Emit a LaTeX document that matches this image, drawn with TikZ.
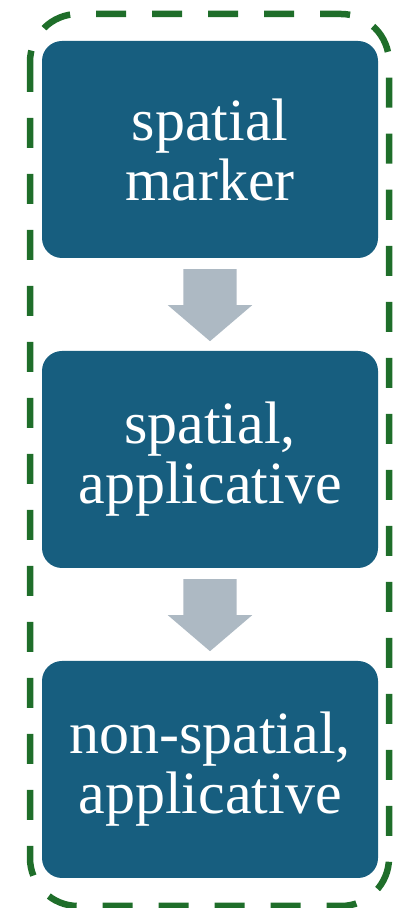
\documentclass[tikz,border=0pt]{standalone}
\usepackage{fontspec}
\setmainfont{Liberation Serif}
\usepackage{tikz}
\usetikzlibrary{calc,positioning,shapes.arrows}
\definecolor{boxblue}{HTML}{175E7F}
\definecolor{arrowgrey}{HTML}{ADB9C3}
\definecolor{frame}{HTML}{1F6E2A}
\newdimen\hdim
\newdimen\wdim
\hdim=217pt
\wdim=336pt
\tikzstyle{stage}=[
  fill=boxblue,
  text=white,
  font={\fontsize{60}{60}\selectfont},
  inner sep=0pt,
  minimum height=\hdim,
  minimum width=\wdim,
  outer sep=0pt,
  rectangle,
  rounded corners=20pt,
  align=center,
]
\tikzstyle{blockarrow}=[
  fill=arrowgrey,
  single arrow,
  shape border rotate=270,
  minimum height=72pt,
  inner xsep=26.5pt,
  inner ysep=0pt,
  single arrow head extend=15.5pt,
  single arrow tip angle=99,
  anchor=tail,
]
\tikzstyle{frame}=[
  draw=frame,
  line width=6.5pt,
  dash pattern=on 30pt off 26pt,
  rounded corners=48pt,
]
\tikzset{
  x=1pt, y=1pt,
  node distance=93pt,
}
\begin{document}
\begin{tikzpicture}
  \useasboundingbox (0,0) rectangle (409,908);
  \node (marker) [stage] at (210,758.5) {spatial\\marker};
  \node (applic) [stage, below=of marker] {spatial,\\applicative};
  \node (nonspatial) [stage, below=of applic] {non-spatial,\\applicative};
  %%
  \node (arr1) [blockarrow] at ($(marker.south)+(0,-11)$) {};
  \node (arr2) [blockarrow] at ($(applic.south)+(0,-11)$) {};
  %%
  \draw [frame] ($(marker.north west)+(-12,27)$)
    rectangle ($(nonspatial.south east)+(11,-28)$);
\end{tikzpicture}
\end{document}
